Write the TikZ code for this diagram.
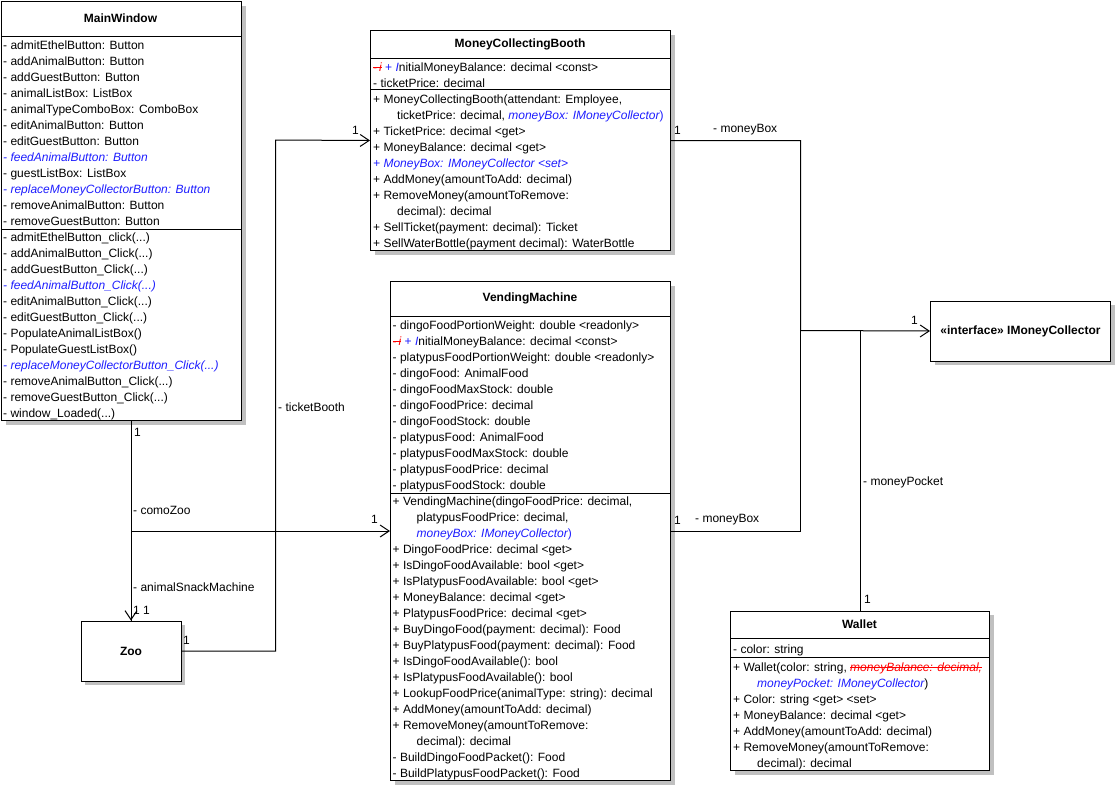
\documentclass[tikz,border=0pt]{standalone}
\usepackage{fontspec}
\setmainfont{Liberation Sans}
\usetikzlibrary{arrows.meta,shadows}
\definecolor{shadowgray}{RGB}{192,192,192}
\definecolor{umlblue}{RGB}{30,30,255}
\newcommand\bl[1]{\textcolor{umlblue}{\itshape #1}}
\newcommand\ind{\hspace*{24pt}}
\newcommand\dd{...}
\newcommand\strk[1]{\leavevmode\setbox0\hbox{#1}\rlap{\raisebox{3.6pt}{\rule{\wd0}{0.9pt}}}\box0}
\newcommand\struckinit{\textcolor{red}{\strk{-\,{\itshape i}}}\ \textcolor{umlblue}{+ {\itshape I}}nitialMoneyBalance: decimal <const>}
\newcommand\classrows[4]{\foreach \rowtext [count=\ri from 0] in {#4}{\node[txt] (#1\ri) at (#2, #3+16*\ri) {\rowtext};}}
\tikzset{
  classbox/.style={draw, line width=1pt, fill=white, inner sep=0pt, anchor=north west,
    drop shadow={shadow xshift=4pt, shadow yshift=-4pt, fill=shadowgray, opacity=1}},
  txt/.style={inner sep=0pt, anchor=base west, font=\fontsize{12}{14}\selectfont},
  ttl/.style={inner sep=0pt, font=\fontsize{12}{14}\selectfont\bfseries},
  conn/.style={line width=1pt},
  assoc/.style={conn, -{Straight Barb[length=9pt,width=12pt]}},
  lbl/.style={inner sep=0pt, anchor=west, font=\fontsize{12}{14}\selectfont},
  sep/.style={line width=1pt},
}
\begin{document}
\begin{tikzpicture}[x=1pt,y=-1pt]
\useasboundingbox (0,0) rectangle (1115,785);

% ---------- boxes ----------
\node[classbox, minimum width=240pt, minimum height=419pt] (mw) at (1,1) {};
\node[classbox, minimum width=300pt, minimum height=220pt] (mcb) at (370,30) {};
\node[classbox, minimum width=280pt, minimum height=499pt] (vm) at (390,281) {};
\node[classbox, minimum width=180pt, minimum height=60pt] (imc) at (930,300.5) {};
\node[classbox, minimum width=259pt, minimum height=159.5pt] (wallet) at (730,610.5) {};
\node[classbox, minimum width=100pt, minimum height=60pt] (zoo) at (80.5,620.5) {};

% ---------- separators ----------
\draw[sep] ([yshift=-35pt]mw.north west) -- ([yshift=-35pt]mw.north east);
\draw[sep] ([yshift=-228pt]mw.north west) -- ([yshift=-228pt]mw.north east);
\draw[sep] ([yshift=-28pt]mcb.north west) -- ([yshift=-28pt]mcb.north east);
\draw[sep] ([yshift=-59pt]mcb.north west) -- ([yshift=-59pt]mcb.north east);
\draw[sep] ([yshift=-35pt]vm.north west) -- ([yshift=-35pt]vm.north east);
\draw[sep] ([yshift=-212pt]vm.north west) -- ([yshift=-212pt]vm.north east);
\draw[sep] ([yshift=-27.5pt]wallet.north west) -- ([yshift=-27.5pt]wallet.north east);
\draw[sep] ([yshift=-47pt]wallet.north west) -- ([yshift=-47pt]wallet.north east);

% ---------- titles ----------
\node[ttl] (mwt) at (120.5,18) {MainWindow};
\node[ttl] (mcbt) at (520,44.5) {MoneyCollectingBooth};
\node[ttl] (vmt) at (530,298.5) {VendingMachine};
\node[ttl] (imct) at (imc.center) {«interface» IMoneyCollector};
\node[ttl] (wallett) at (859.5,624.5) {Wallet};
\node[ttl] (zoot) at (zoo.center) {Zoo};

% ---------- MainWindow ----------
\classrows{mwa}{3}{49}{
 {- admitEthelButton: Button},
 {- addAnimalButton: Button},
 {- addGuestButton: Button},
 {- animalListBox: ListBox},
 {- animalTypeComboBox: ComboBox},
 {- editAnimalButton: Button},
 {- editGuestButton: Button},
 {\bl{- feedAnimalButton: Button}},
 {- guestListBox: ListBox},
 {\bl{- replaceMoneyCollectorButton: Button}},
 {- removeAnimalButton: Button},
 {- removeGuestButton: Button}}
\classrows{mwm}{3}{241}{
 {- admitEthelButton\_click(\dd)},
 {- addAnimalButton\_Click(\dd)},
 {- addGuestButton\_Click(\dd)},
 {\bl{- feedAnimalButton\_Click(\dd)}},
 {- editAnimalButton\_Click(\dd)},
 {- editGuestButton\_Click(\dd)},
 {- PopulateAnimalListBox()},
 {- PopulateGuestListBox()},
 {\bl{- replaceMoneyCollectorButton\_Click(\dd)}},
 {- removeAnimalButton\_Click(\dd)},
 {- removeGuestButton\_Click(\dd)},
 {- window\_Loaded(\dd)}}

% ---------- MoneyCollectingBooth ----------
\classrows{mcba}{373}{71}{
 {\struckinit},
 {- ticketPrice: decimal}}
\classrows{mcbm}{373}{103}{
 {+ MoneyCollectingBooth(attendant: Employee,},
 {\ind ticketPrice: decimal, \bl{moneyBox: IMoneyCollector}\textcolor{umlblue}{)}},
 {+ TicketPrice: decimal <get>},
 {+ MoneyBalance: decimal <get>},
 {\bl{+ MoneyBox: IMoneyCollector <set>}},
 {+ AddMoney(amountToAdd: decimal)},
 {+ RemoveMoney(amountToRemove:},
 {\ind decimal): decimal},
 {+ SellTicket(payment: decimal): Ticket},
 {+ SellWaterBottle(payment decimal): WaterBottle}}

% ---------- VendingMachine ----------
\classrows{vma}{392.5}{329.5}{
 {- dingoFoodPortionWeight: double <readonly>},
 {\struckinit},
 {- platypusFoodPortionWeight: double <readonly>},
 {- dingoFood: AnimalFood},
 {- dingoFoodMaxStock: double},
 {- dingoFoodPrice: decimal},
 {- dingoFoodStock: double},
 {- platypusFood: AnimalFood},
 {- platypusFoodMaxStock: double},
 {- platypusFoodPrice: decimal},
 {- platypusFoodStock: double}}
\classrows{vmm}{392.5}{505.5}{
 {+ VendingMachine(dingoFoodPrice: decimal,},
 {\ind platypusFoodPrice: decimal,},
 {\ind \bl{moneyBox: IMoneyCollector}\textcolor{umlblue}{)}},
 {+ DingoFoodPrice: decimal <get>},
 {+ IsDingoFoodAvailable: bool <get>},
 {+ IsPlatypusFoodAvailable: bool <get>},
 {+ MoneyBalance: decimal <get>},
 {+ PlatypusFoodPrice: decimal <get>},
 {+ BuyDingoFood(payment: decimal): Food},
 {+ BuyPlatypusFood(payment: decimal): Food},
 {+ IsDingoFoodAvailable(): bool},
 {+ IsPlatypusFoodAvailable(): bool},
 {+ LookupFoodPrice(animalType: string): decimal},
 {+ AddMoney(amountToAdd: decimal)},
 {+ RemoveMoney(amountToRemove:},
 {\ind decimal): decimal},
 {- BuildDingoFoodPacket(): Food},
 {- BuildPlatypusFoodPacket(): Food}}

% ---------- Wallet ----------
\classrows{wa}{733}{653}{
 {- color: string}}
\classrows{wm}{733}{671.5}{
 {+ Wallet(color: string, \textcolor{red}{\itshape\strk{moneyBalance: decimal,}}},
 {\ind \bl{moneyPocket: IMoneyCollector})},
 {+ Color: string <get> <set>},
 {+ MoneyBalance: decimal <get>},
 {+ AddMoney(amountToAdd: decimal)},
 {+ RemoveMoney(amountToRemove:},
 {\ind decimal): decimal}}

% ---------- connectors ----------
\coordinate (tbk) at (275.5,140);
\coordinate (jn) at (800.5,330.5);
\draw[assoc] (mw.south -| zoo.north) -- (zoo.north);
\draw[assoc] (zoo.north) |- (vm.west);
\draw[assoc] (zoo.east) -| (tbk) -- (mcb.west);
\draw[assoc] (mcb.east) -| (jn) -- (imc.west);
\draw[conn] (vm.east) -| (jn);
\draw[conn] (wallet.north) -- (wallet.north |- imc.west);

% ---------- connector labels ----------
\node[lbl] (l1) at (134,432) {1};
\node[lbl] (l2) at (133,510) {- comoZoo};
\node[lbl] (l3) at (133,587) {- animalSnackMachine};
\node[lbl] (l4) at (133,610) {1 1};
\node[lbl] (l5) at (371,519) {1};
\node[lbl] (l6) at (278,407) {- ticketBooth};
\node[lbl] (l7) at (183,640) {1};
\node[lbl] (l8) at (352,130) {1};
\node[lbl] (l9) at (674,130) {1};
\node[lbl] (l10) at (713,130) {- moneyBox};
\node[lbl] (l11) at (674,520) {1};
\node[lbl] (l12) at (695,520) {- moneyBox};
\node[lbl] (l13) at (911,320) {1};
\node[lbl] (l14) at (863,482) {- moneyPocket};
\node[lbl] (l15) at (864,599) {1};
\end{tikzpicture}
\end{document}
